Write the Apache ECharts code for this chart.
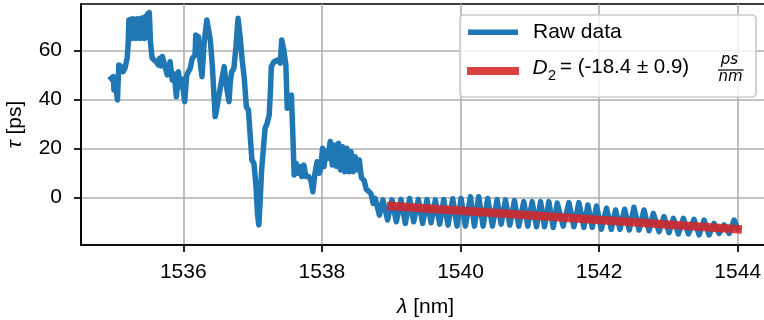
<!DOCTYPE html>
<html>
<head>
<meta charset="utf-8">
<script src="https://cdn.jsdelivr.net/npm/echarts@6/dist/echarts.min.js"></script>
<style>
  html, body { margin: 0; padding: 0; background: #fff; }
  #chart { width: 764px; height: 320px; }
</style>
</head>
<body>
<div id="chart"></div>
<script>
// Group delay measurement: wavelength (nm) and delay (ps)
const lambdaNm = [
  1534.96, 1534.99, 1535.00, 1535.02, 1535.05, 1535.07, 1535.10, 1535.13, 1535.16, 1535.19,
  1535.205, 1535.215, 1535.23, 1535.245, 1535.26, 1535.275, 1535.29, 1535.305, 1535.32, 1535.335,
  1535.35, 1535.365, 1535.38, 1535.395, 1535.41, 1535.425, 1535.44, 1535.455, 1535.47, 1535.485,
  1535.50, 1535.51, 1535.525, 1535.55,
  1535.58, 1535.61, 1535.64, 1535.66, 1535.68, 1535.70, 1535.73, 1535.77, 1535.81,
  1535.84, 1535.87, 1535.90, 1535.93, 1535.95, 1535.98, 1536.02, 1536.05, 1536.10, 1536.13,
  1536.17, 1536.18, 1536.22, 1536.24, 1536.27, 1536.30, 1536.34, 1536.39, 1536.42, 1536.46,
  1536.48, 1536.52, 1536.55, 1536.59, 1536.62, 1536.66, 1536.68, 1536.70, 1536.73, 1536.76,
  1536.79, 1536.82, 1536.85, 1536.88, 1536.91, 1536.94, 1536.96, 1536.99, 1537.02, 1537.05,
  1537.07, 1537.09, 1537.11, 1537.13, 1537.15, 1537.18, 1537.21, 1537.24, 1537.26, 1537.27,
  1537.31, 1537.36, 1537.40, 1537.42, 1537.45, 1537.48, 1537.50, 1537.53, 1537.56, 1537.58,
  1537.60, 1537.63, 1537.66, 1537.69, 1537.71, 1537.74, 1537.77, 1537.81, 1537.84, 1537.87,
  1537.90, 1537.93, 1537.96, 1537.98, 1538.01, 1538.03, 1538.06, 1538.08, 1538.12, 1538.15,
  1538.18, 1538.21, 1538.24, 1538.27, 1538.30, 1538.33, 1538.36, 1538.39, 1538.42, 1538.45,
  1538.48, 1538.51, 1538.54, 1538.57, 1538.61, 1538.64, 1538.68, 1538.71, 1538.74, 1538.77,
  1538.83, 1538.88, 1538.948, 1539.011, 1539.074, 1539.141, 1539.204, 1539.266, 1539.324, 1539.392,
  1539.454, 1539.517, 1539.575, 1539.637, 1539.700, 1539.758, 1539.820, 1539.888, 1539.950, 1540.008,
  1540.071, 1540.143, 1540.201, 1540.263, 1540.326, 1540.393, 1540.461, 1540.528, 1540.586, 1540.649,
  1540.711, 1540.779, 1540.841, 1540.914, 1540.971, 1541.034, 1541.097, 1541.155, 1541.212, 1541.275,
  1541.338, 1541.396, 1541.482, 1541.564, 1541.636, 1541.708, 1541.781, 1541.838, 1541.901, 1541.964,
  1542.031, 1542.108, 1542.176, 1542.238, 1542.301, 1542.368, 1542.436, 1542.503, 1542.576, 1542.648,
  1542.720, 1542.783, 1542.865, 1542.937, 1543.009, 1543.072, 1543.144, 1543.216, 1543.289, 1543.370,
  1543.443, 1543.515, 1543.587, 1543.659, 1543.732, 1543.804, 1543.876, 1543.948, 1543.997
];
const tauPs = [
  48.7, 49.4, 44.0, 47.0, 39.9, 54.2, 53.5, 51.4, 53.0, 57.0,
  63.0, 72.5, 65.5, 72.8, 65.0, 73.0, 65.2, 72.6, 65.0, 73.0,
  65.4, 72.8, 65.0, 73.2, 65.3, 73.4, 65.0, 74.0, 65.5, 75.0,
  66.0, 75.6, 64.0, 57.0,
  56.2, 55.5, 54.2, 56.9, 53.8, 57.6, 54.2, 50.1, 55.5,
  48.0, 50.5, 41.2, 51.4, 45.3, 48.5, 39.2, 50.1, 52.8, 56.9,
  58.2, 66.4, 65.7, 56.2, 49.4, 63.0, 72.5, 64.4, 53.5, 33.1,
  35.8, 42.6, 47.3, 53.5, 46.0, 39.2, 48.0, 51.4, 52.8, 61.6,
  73.2, 65.7, 56.2, 48.7, 37.1, 35.8, 27.6, 15.4, 14.0, 4.5,
  -6.4, -11.1, -0.9, 11.3, 18.1, 28.3, 30.4, 33.8, 45.3, 53.5,
  55.5, 56.2, 54.9, 64.4, 60.3, 54.2, 36.5, 41.2, 41.9, 26.3,
  9.3, 14.0, 10.0, 12.7, 8.6, 13.3, 8.6, 8.6, 7.2, 2.4,
  10.0, 14.7, 10.0, 11.5, 20.2, 12.7, 18.8, 16.0, 22.9, 13.3,
  21.5, 12.7, 22.2, 11.3, 20.8, 10.6, 20.2, 10.6, 18.8, 10.6,
  16.7, 11.3, 15.4, 8.2, 7.0, 3.5, 2.5, 1.5, -2.3, -0.3,
  -7.1, -0.9, -9.1, -0.9, -9.8, -0.7, -10.5, -0.3, -9.8, -0.7,
  -10.5, -0.7, -10.2, -0.9, -10.8, -0.7, -11.2, -0.4, -11.6, -0.3,
  -11.6, 0.4, -11.6, 0.4, -11.6, -0.3, -11.6, -0.7, -10.8, -0.9,
  -11.2, -1.2, -11.6, -1.6, -11.6, -1.6, -11.9, -1.6, -11.9, -1.6,
  -12.2, -2.2, -11.6, -2.0, -11.8, -2.0, -12.1, -3.0, -12.1, -3.4,
  -12.9, -4.3, -12.9, -5.0, -12.9, -4.7, -13.2, -3.9, -13.2, -5.0,
  -13.5, -6.4, -13.9, -7.7, -14.3, -8.4, -14.8, -8.4, -14.8, -8.8,
  -15.2, -9.1, -15.2, -10.5, -14.6, -11.1, -14.6, -9.1, -12.5
];

// Linear fit over the 1539–1544 nm range
const fitLambda = [1539.0, 1544.0];
const fitTau = [-3.4, -12.9];

// Axis ticks
const xTicks = [1536, 1538, 1540, 1542, 1544];
const yTicks = [0, 20, 40, 60];

// Legend texts
const rawLabel = 'Raw data';
const fitLabel = { sym: 'D', sub: '2', body: '= (-18.4 ± 0.9)', num: 'ps', den: 'nm' };

const BLUE = '#1f77b4';
const RED = '#d62728';
const FONT = '"Liberation Sans", Arial, Helvetica, sans-serif';
const MATHFONT = '"DejaVu Sans", sans-serif';

const rawData = lambdaNm.map((x, i) => [x, tauPs[i]]);
const fitData = fitLambda.map((x, i) => [x, fitTau[i]]);

const chart = echarts.init(document.getElementById('chart'), null, { renderer: 'canvas' });

const axisCommon = {
  type: 'value',
  splitNumber: 5,
  axisLine: { show: true, onZero: false, lineStyle: { color: '#000', width: 1.7 } },
  axisTick: { show: true, inside: false, length: 7, lineStyle: { color: '#000', width: 1.7 } },
  splitLine: { show: true, lineStyle: { color: '#b0b0b0', width: 1.6 } },
  nameTextStyle: {
    fontFamily: FONT, fontSize: 21, color: '#000',
    rich: { i: { fontFamily: FONT, fontSize: 21, fontStyle: 'italic', color: '#000' } }
  }
};

const plainNumber = v => String(v);

const option = {
  animation: false,
  backgroundColor: '#fff',
  grid: {
    left: 81, top: 4, width: 689, height: 241,
    outerBoundsMode: 'none',
    containLabel: false,
    show: true, borderColor: '#000', borderWidth: 1.7, backgroundColor: 'transparent'
  },
  xAxis: Object.assign({}, axisCommon, {
    min: 1534.524, max: 1544.466,
    name: '{i|λ} [nm]', nameLocation: 'middle', nameGap: 52,
    axisTick: Object.assign({}, axisCommon.axisTick, { customValues: xTicks }),
    axisLabel: {
      customValues: xTicks, margin: 17, fontFamily: FONT, fontSize: 21, color: '#000',
      formatter: plainNumber, hideOverlap: false
    }
  }),
  yAxis: Object.assign({}, axisCommon, {
    min: -19.31, max: 79.06,
    name: '{i|τ} [ps]', nameLocation: 'middle', nameRotate: 90, nameGap: 55,
    axisTick: Object.assign({}, axisCommon.axisTick, { customValues: yTicks }),
    axisLabel: {
      customValues: yTicks, margin: 19, fontFamily: FONT, fontSize: 21, color: '#000',
      formatter: plainNumber, hideOverlap: false
    }
  }),
  series: [
    {
      name: rawLabel,
      type: 'line',
      data: rawData,
      showSymbol: false,
      symbol: 'none',
      lineStyle: { color: BLUE, width: 5.5, join: 'round', cap: 'square' },
      z: 2
    },
    {
      name: 'fit',
      type: 'line',
      data: fitData,
      showSymbol: false,
      symbol: 'none',
      lineStyle: { color: RED, width: 8.5, opacity: 0.88, cap: 'square' },
      z: 3
    }
  ],
  graphic: [
    {
      type: 'rect', z: 100,
      shape: { x: 460, y: 15, width: 296, height: 82, r: 4 },
      style: { fill: 'rgba(255,255,255,0.8)', stroke: '#cccccc', lineWidth: 1.7 }
    },
    {
      type: 'line', z: 101,
      shape: { x1: 468, y1: 32.3, x2: 518, y2: 32.3 },
      style: { stroke: BLUE, lineWidth: 5.5 }
    },
    {
      type: 'line', z: 101,
      shape: { x1: 467, y1: 71, x2: 519, y2: 71 },
      style: { stroke: RED, lineWidth: 8, opacity: 0.88 }
    },
    {
      type: 'text', z: 101, x: 533, y: 32.2,
      style: { text: rawLabel, fontFamily: FONT, fontSize: 21, fill: '#000', align: 'left', verticalAlign: 'middle' }
    },
    {
      type: 'text', z: 101, x: 532.5, y: 67.7,
      style: { text: fitLabel.sym, fontFamily: FONT, fontSize: 21, fontStyle: 'italic', fill: '#000', align: 'left', verticalAlign: 'middle' }
    },
    {
      type: 'text', z: 101, x: 548, y: 75.5,
      style: { text: fitLabel.sub, fontFamily: FONT, fontSize: 14.5, fill: '#000', align: 'left', verticalAlign: 'middle' }
    },
    {
      type: 'text', z: 101, x: 560, y: 67.7,
      style: { text: fitLabel.body, fontFamily: FONT, fontSize: 20.5, fill: '#000', align: 'left', verticalAlign: 'middle' }
    },
    {
      type: 'text', z: 101, x: 729.5, y: 60,
      style: { text: fitLabel.num, fontFamily: MATHFONT, fontSize: 15, fontStyle: 'italic', fill: '#000', align: 'center', verticalAlign: 'middle' }
    },
    {
      type: 'line', z: 101,
      shape: { x1: 718, y1: 70, x2: 743.5, y2: 70 },
      style: { stroke: '#000', lineWidth: 1.2 }
    },
    {
      type: 'text', z: 101, x: 730.5, y: 77.5,
      style: { text: fitLabel.den, fontFamily: MATHFONT, fontSize: 15, fontStyle: 'italic', fill: '#000', align: 'center', verticalAlign: 'middle' }
    }
  ]
};

chart.setOption(option);
</script>
</body>
</html>
